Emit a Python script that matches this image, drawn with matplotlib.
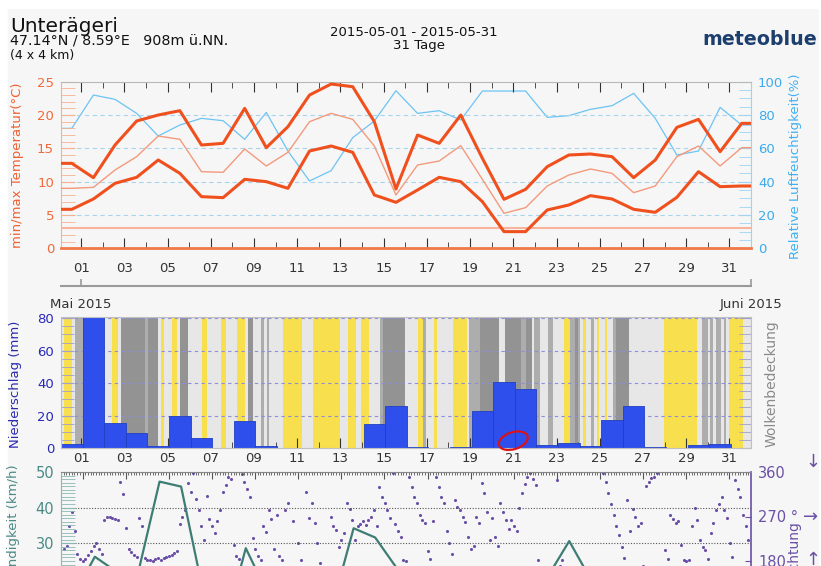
import numpy as np
import matplotlib
matplotlib.use("Agg")
from matplotlib import pyplot as plt
from matplotlib.colors import ListedColormap
from matplotlib.patches import Ellipse, Rectangle
from matplotlib.transforms import Affine2D

W, H = 821, 566

# Tageswerte 01.05. - 01.06.2015
days = np.arange(1, 33)
t_max = [12.75, 10.6, 15.5, 19.1, 20.0, 20.65, 15.5, 15.75, 21.0, 15.1, 18.25, 23.0,
         24.65, 24.25, 19.0, 8.9, 17.0, 15.75, 20.0, 13.5, 7.35, 8.85, 12.25, 14.0,
         14.15, 13.75, 10.6, 13.25, 18.15, 19.35, 14.5, 18.75]
t_mean = [9.0, 9.15, 11.75, 13.75, 16.85, 16.35, 11.5, 11.4, 14.9, 12.35, 14.4, 19.0,
          20.25, 19.35, 15.35, 8.0, 12.5, 13.1, 15.4, 10.35, 5.25, 6.1, 9.35, 11.0,
          11.9, 11.25, 8.35, 9.35, 13.75, 15.35, 12.35, 15.1]
t_min = [5.85, 7.4, 9.75, 10.65, 13.25, 11.25, 7.75, 7.6, 10.35, 10.0, 9.0, 14.6,
         15.35, 14.4, 8.0, 6.9, 8.75, 10.65, 10.0, 7.0, 2.5, 2.5, 5.75, 6.5,
         7.9, 7.4, 5.85, 5.4, 7.65, 11.5, 9.25, 9.35]
humidity = [72, 92, 89.4, 81, 67.4, 74, 78, 76.6, 65.4, 81.6, 58.4, 40.4,
            46.6, 66.4, 76.4, 94.6, 81, 82.6, 77, 94.4, 94.4, 94.4, 78.6, 79.6,
            83.4, 85.6, 93, 78, 56, 58.4, 84.6, 74]
precip = [2.5, 85, 15.6, 9.2, 1.4, 19.7, 6.2, 0, 16.6, 1.2, 0, 0, 0, 0, 15, 25.8,
          0.6, 0.2, 0.8, 22.6, 40.8, 36.5, 2, 3.3, 1.4, 17.2, 25.8, 0.4, 0, 1.6, 2.7]
wind_speed = [15, 26.2, 22, 21.5, 47.3, 45.9, 17, 6, 28.6, 16, 14, 13, 12, 34.2, 31.6, 23,
              15, 14, 16, 17, 15, 14, 20.6, 30.6, 19.8, 15, 14, 13, 12, 15, 14, 13]

# Windrichtung, 3-stuendlich
wind_dir = [
    [205, 210, 250, 280, 240, 195, 185, 180],
    [185, 192, 200, 210, 216, 205, 195, 262],
    [268, 270, 266, 264, 262, 340, 315, 246],
    [205, 198, 192, 188, 266, 250, 186, 183],
    [182, 180, 184, 186, 183, 186, 188, 190],
    [192, 196, 200, 255, 270, 283, 337, 320],
    [357, 305, 283, 250, 222, 312, 265, 250],
    [236, 260, 283, 320, 333, 350, 345, 212],
    [190, 185, 356, 340, 325, 310, 226, 205],
    [190, 182, 250, 238, 283, 265, 205, 273],
    [190, 183, 283, 297, 150, 260, 140, 216],
    [182, 160, 320, 266, 297, 256, 216, 175],
    [150, 140, 160, 270, 250, 243, 209, 222],
    [236, 297, 285, 263, 222, 250, 255, 260],
    [253, 262, 270, 283, 250, 330, 310, 297],
    [283, 266, 357, 255, 240, 229, 182, 180],
    [350, 330, 310, 297, 273, 262, 256, 200],
    [185, 260, 350, 330, 310, 297, 240, 216],
    [195, 303, 290, 283, 270, 258, 229, 205],
    [210, 270, 256, 337, 317, 280, 222, 266],
    [229, 210, 297, 280, 263, 245, 263, 250],
    [240, 287, 317, 335, 350, 357, 345, 333],
    [182, 150, 140, 130, 140, 150, 160, 343],
    [170, 182, 150, 140, 130, 120, 130, 140],
    [130, 120, 110, 120, 130, 140, 150, 160],
    [357, 340, 317, 295, 273, 250, 233, 209],
    [186, 303, 240, 285, 270, 250, 256, 170],
    [332, 340, 347, 350, 357, 160, 150, 202],
    [185, 273, 265, 256, 260, 212, 182, 180],
    [182, 250, 287, 263, 222, 209, 202, 185],
    [236, 256, 283, 296, 310, 283, 266, 216],
    [189, 343, 325, 310, 273, 250, 222],
]

# Wolkenbedeckung, 3-stuendlich: y=sonnig, l=leicht, m=mittel, d=bedeckt
cloud = ["lyyylmmm", "ddddddml", "lllyyldd", "dddddddm", "ddddlyll", "lyyldddl",
         "llllyyll", "lllyylll", "lyyylddl", "llmlmlll", "llyyyyyy", "yllllyyy",
         "yyyyyyyl", "llyyylly", "yyllllmd", "dddddddl", "llllyyml", "llylllll",
         "lyyyyylm", "mmmddddd", "ddlldddd", "ddmmddlm", "mlllmmll", "llyymmdm",
         "lyllmlyl", "lyllmddd", "ddllllll", "llllllly", "yyyyyyyy", "yyyllmml",
         "mlmmlmly", "yyyyllll"]

XMAX = 31.93
xc = days - 0.5
odd = np.arange(1, 32, 2)
even = np.arange(2, 32, 2)


def ext(v):
    return np.r_[v[0], v, v[-1]]


xe = np.r_[0, xc, XMAX]

fig = plt.figure(figsize=(W / 100, H / 100), dpi=100, facecolor='white')
fig.patches.append(Rectangle((8 / W, 0), 810 / W, 1 - 9 / H, transform=fig.transFigure,
                             color='#f6f6f6', zorder=-10))


def px_axes(l, t, r, b):
    return fig.add_axes([l / W, 1 - b / H, (r - l) / W, (b - t) / H])


def day_ticks(ax, top=True, bottom=True, labels=True, pad=4):
    ax.set_xlim(0, XMAX)
    ax.set_xticks(odd - 0.07)
    ax.set_xticklabels(['%02d' % d for d in odd])
    ax.set_xticks(even - 0.07, minor=True)
    ax.tick_params(axis='x', which='both', direction='in', top=top, bottom=bottom,
                   colors='#333333', labelsize=9.5, pad=pad, labelbottom=labels)
    ax.tick_params(axis='x', which='major', length=7)
    ax.tick_params(axis='x', which='minor', length=4)


# ---------------- Temperatur / Feuchte ----------------
ax1 = px_axes(61, 81.7, 751, 248.3)
ax1h = ax1.twinx()
ax1.set_zorder(ax1h.get_zorder() + 1)
ax1.patch.set_visible(False)
ax1h.patch.set_visible(False)

ax1h.plot(xe, ext(humidity), color='#6cc4f4', lw=0.9)
ax1h.set_ylim(0, 100)
ax1h.set_yticks([0, 20, 40, 60, 80, 100])
ax1h.set_yticks(np.arange(0, 101, 5), minor=True)
ax1h.tick_params(axis='y', which='both', direction='in', length=9, color='#9ad4f5',
                 labelcolor='#3aabee', labelsize=9.5, pad=5)
for s in ['left', 'top', 'bottom']:
    ax1h.spines[s].set_visible(False)
ax1h.spines['right'].set_color('#9ad4f5')

for v in [5, 10, 15, 20]:
    ax1.axhline(v, color='#a8d4f0', lw=0.8, ls=(0, (4, 3)), zorder=1)
ax1.axhline(3, color='#f8b49a', lw=1.5, zorder=2)
ax1.plot(xe, ext(t_mean), color='#f49a7c', lw=1.0, zorder=3)
ax1.plot(xe, ext(t_max), color='#f0501e', lw=2.2, zorder=4)
ax1.plot(xe, ext(t_min), color='#f0501e', lw=2.2, zorder=4)
ax1.set_ylim(0, 25)
ax1.set_yticks([0, 5, 10, 15, 20, 25])
ax1.set_yticks(np.arange(0, 26, 1), minor=True)
ax1.tick_params(axis='y', which='both', direction='in', length=10, color='#f7b090',
                labelcolor='#f06a3a', labelsize=9.5, pad=5)
day_ticks(ax1, pad=10)
ax1.spines['right'].set_visible(False)
ax1.spines['left'].set_color('#f7b090')
ax1.spines['bottom'].set_color('#f07848')
ax1.spines['bottom'].set_linewidth(2)
ax1.spines['top'].set_color('#b8b8b8')

# Monatsachse
axm = px_axes(61, 284.5, 751, 285.5)
axm.patch.set_visible(False)
axm.set_xlim(0, XMAX)
axm.set_yticks([])
for s in ['left', 'right', 'top']:
    axm.spines[s].set_visible(False)
axm.spines['bottom'].set_color('#9a9a9a')
axm.spines['bottom'].set_linewidth(1.5)
axm.set_xticks([0.93, XMAX])
axm.set_xticklabels(['Mai 2015', 'Juni 2015'])
axm.tick_params(axis='x', direction='in', length=5, width=1.2, color='#9a9a9a',
                labelcolor='#333333', labelsize=9.5, pad=9)

# ---------------- Niederschlag / Wolken ----------------
ax2 = px_axes(61, 316.5, 751, 448)
ax2.patch.set_visible(False)
codes = np.array([['ylmd'.index(c) for c in ''.join(cloud)]])
cmap = ListedColormap(['#f8df4e', '#e7e7e7', '#adadad', '#939393'])
P_TOP = 81.1
ax2.imshow(codes, extent=[0, 32, 0, P_TOP], aspect='auto', cmap=cmap, vmin=-0.5,
           vmax=3.5, interpolation='nearest', zorder=0)
for v in [20, 40, 60, 80]:
    ax2.axhline(v, color='#8f8fd8', lw=0.8, ls=(0, (3, 3)), zorder=1)
ax2.bar(xc[:31], precip, width=1.0, color='#2f4fec', edgecolor='#2040c0', lw=0.6, zorder=2)
ax2.set_ylim(0, P_TOP)
ax2.set_yticks([0, 20, 40, 60, 80])
ax2.set_yticks(np.arange(0, 81, 5), minor=True)
ax2.tick_params(axis='y', which='both', direction='in', length=9, color='#a0a0c8',
                labelcolor='#2828b8', labelsize=9.5, pad=5, right=True)
day_ticks(ax2, top=False, pad=3)
for s in ax2.spines.values():
    s.set_color('#c0c0c0')
    s.set_linewidth(0.8)

# Markierung
px = Affine2D().scale(1 / W, 1 / H) + fig.transFigure
fig.patches.append(Ellipse((513.3, H - 440.7), 30, 17, angle=18, transform=px,
                           fill=False, edgecolor='#e01010', lw=1.5, zorder=10))

# ---------------- Wind ----------------
ax3 = px_axes(61, 472, 751, 650)
ax3d = ax3.twinx()
ax3.set_zorder(ax3d.get_zorder() + 1)
ax3.patch.set_visible(False)
ax3d.patch.set_visible(False)

t_dir = [i + (k + 0.5) / 8 for i, vals in enumerate(wind_dir) for k in range(len(vals))]
d_dir = [v for vals in wind_dir for v in vals]
ax3d.scatter(t_dir, d_dir, s=5, color='#6a4fa6', lw=0)
ax3d.set_ylim(0, 360)
ax3d.set_yticks([180, 270, 360])
ax3d.set_yticklabels(['180', '270 °', '360'])
ax3d.tick_params(axis='y', direction='in', length=4, color='#6a4fa6',
                 labelcolor='#6a4fa6', labelsize=10.5, pad=5)
for s in ['left', 'top', 'bottom']:
    ax3d.spines[s].set_visible(False)
ax3d.spines['right'].set_color('#6a4fa6')
ax3d.spines['right'].set_linewidth(1.2)

for v in [10, 20, 30, 40]:
    ax3.axhline(v, color='#555555', lw=0.8, ls=(0, (1, 1.5)), zorder=1)
ax3.plot(xe, ext(wind_speed), color='#3e7d74', lw=1.6, zorder=3)
ax3.set_ylim(0, 50)
ax3.set_xlim(0, XMAX)
ax3.set_yticks([0, 10, 20, 30, 40, 50])
ax3.set_yticks(np.arange(0, 51, 1), minor=True)
ax3.tick_params(axis='y', which='both', direction='in', length=10, color='#8ab8b4',
                labelcolor='#4a8a86', labelsize=10.5, pad=5)
ax3.set_xticks(odd - 0.07)
ax3.set_xticks(np.arange(0, 32, 0.125) - 0.07, minor=True)
ax3.tick_params(axis='x', which='both', direction='in', top=True, bottom=False,
                labelbottom=False, color='#555555')
ax3.tick_params(axis='x', which='major', length=5)
ax3.tick_params(axis='x', which='minor', length=2)
ax3.spines['right'].set_visible(False)
ax3.spines['left'].set_color('#8ab8b4')
ax3.spines['top'].set_color('#888888')

# ---------------- Texte ----------------
fig.text(10 / W, 1 - 32.5 / H, 'Unterägeri', fontsize=14.5, color='#111111', va='baseline')
fig.text(10 / W, 1 - 45 / H, '47.14°N / 8.59°E   908m ü.NN.', fontsize=10.3,
         color='#111111', va='baseline')
fig.text(10 / W, 1 - 59 / H, '(4 x 4 km)', fontsize=9, color='#111111', va='baseline')
fig.text(414 / W, 1 - 36 / H, '2015-05-01 - 2015-05-31', fontsize=9.5, color='#111111',
         ha='center', va='baseline')
fig.text(419 / W, 1 - 49 / H, '31 Tage', fontsize=9.5, color='#111111', ha='center',
         va='baseline')
fig.text(817 / W, 1 - 45 / H, 'meteoblue', fontsize=13.7, fontweight='bold',
         color='#1d3f6e', ha='right', va='baseline')

fig.text(18 / W, 1 - 165 / H, 'min/max Temperatur(°C)', rotation=90, fontsize=9.5,
         color='#f06030', ha='center', va='center')
fig.text(795 / W, 1 - 166 / H, 'Relative Luftfeuchtigkeit(%)', rotation=90, fontsize=9.5,
         color='#40b0f0', ha='center', va='center')
fig.text(16 / W, 1 - 384 / H, 'Niederschlag (mm)', rotation=90, fontsize=9.5,
         color='#2a2ab0', ha='center', va='center')
fig.text(772 / W, 1 - 384 / H, 'Wolkenbedeckung', rotation=90, fontsize=10,
         color='#8a8a8a', ha='center', va='center')
fig.text(14 / W, 1 - 559 / H, 'Windgeschwindigkeit (km/h)', rotation=90, fontsize=9.5,
         color='#4a8a86', ha='center', va='center')
fig.text(795 / W, 1 - 568 / H, 'Windrichtung', rotation=90, fontsize=10,
         color='#6a4fa6', ha='center', va='center')

fig.text(813 / W, 1 - 462 / H, '↓', fontsize=13, color='#6a4fa6', ha='center', va='center')
fig.text(811 / W, 1 - 517 / H, '→', fontsize=13, color='#6a4fa6', ha='center', va='center')
fig.text(813 / W, 1 - 560 / H, '↑', fontsize=13, color='#6a4fa6', ha='center', va='center')

fig.savefig('out.png', dpi=100, facecolor=fig.get_facecolor())
